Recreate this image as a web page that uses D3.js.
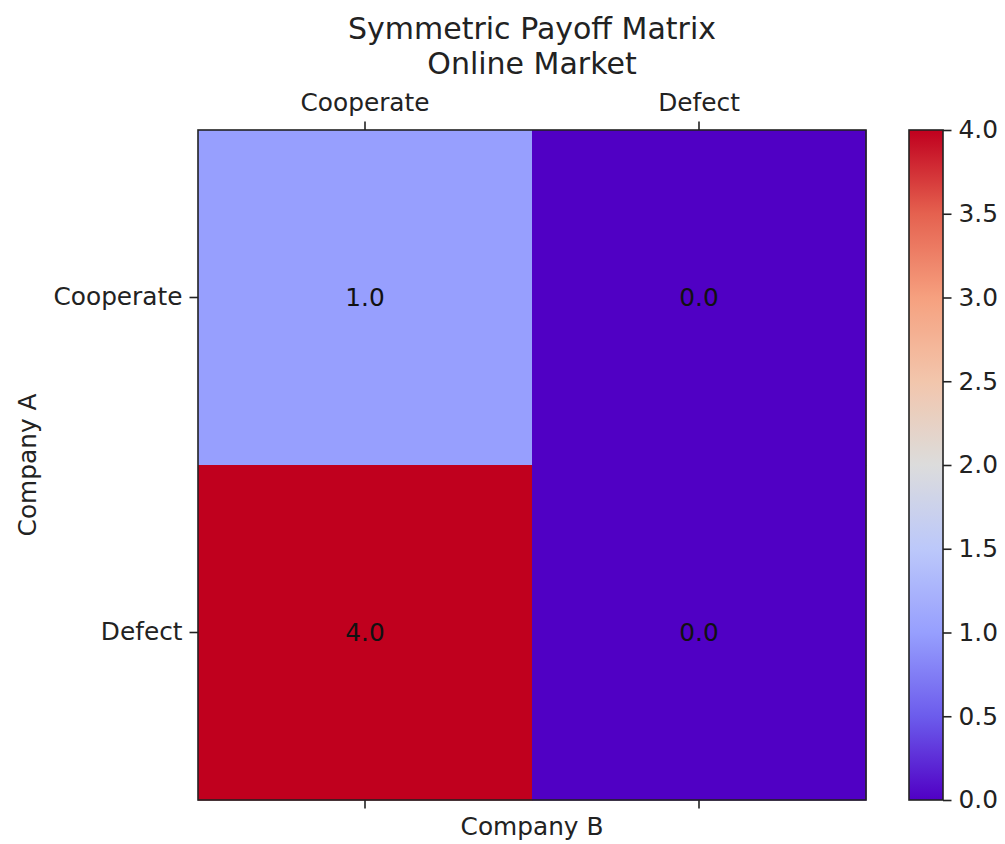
<!DOCTYPE html>
<html>
<head>
<meta charset="utf-8">
<script src="https://cdn.jsdelivr.net/npm/d3@7"></script>
<style>
  html, body { margin: 0; padding: 0; background: #fff; }
  svg { display: block; }
  text { font-family: "DejaVu Sans", sans-serif; }
</style>
</head>
<body>
<svg id="chart" width="1005" height="844"></svg>
<script>
// ---- data ----
const titleLines = ["Symmetric Payoff Matrix", "Online Market"];
const rowLabels = ["Cooperate", "Defect"];      // Company A (rows)
const colLabels = ["Cooperate", "Defect"];      // Company B (columns)
const payoffRowCooperate = [1.0, 0.0];
const payoffRowDefect = [4.0, 0.0];
const colorbarTicks = [0.0, 0.5, 1.0, 1.5, 2.0, 2.5, 3.0, 3.5, 4.0];
const xAxisLabel = "Company B";
const yAxisLabel = "Company A";

const payoffs = [payoffRowCooperate, payoffRowDefect];
const cells = [];
payoffs.forEach((row, i) => row.forEach((v, j) => cells.push({ r: rowLabels[i], c: colLabels[j], v })));

// ---- layout ----
const svg = d3.select("#chart");
const plot = { left: 198, right: 866, top: 130, bottom: 800 };
const cbar = { left: 909, right: 943 };
const FONT = 24.8;
const TICK = 8.5;

const cmapStops = [0, 0.5, 1.0, 1.5, 2.0, 2.5, 3.0, 3.5, 4.0];
const cmapColors = ["#5000c4", "#6c5cec", "#979ffe", "#bcc8fa", "#dcdcdc", "#f2c6ac", "#f6a07f", "#e5614f", "#c0001e"];
const color = d3.scaleLinear().domain(cmapStops).range(cmapColors).interpolate(d3.interpolateRgb).clamp(true);

const x = d3.scaleBand().domain(colLabels).range([plot.left, plot.right]);
const y = d3.scaleBand().domain(rowLabels).range([plot.top, plot.bottom]);

// cells
svg.append("g").selectAll("rect").data(cells).join("rect")
  .attr("x", d => x(d.c)).attr("y", d => y(d.r))
  .attr("width", x.bandwidth() + 0.5).attr("height", y.bandwidth() + 0.5)
  .attr("fill", d => color(d.v));

svg.append("g").selectAll("text").data(cells).join("text")
  .attr("x", d => x(d.c) + x.bandwidth() / 2)
  .attr("y", d => y(d.r) + y.bandwidth() / 2)
  .attr("text-anchor", "middle").attr("dominant-baseline", "central")
  .attr("font-size", FONT).attr("fill", "#111")
  .text(d => d.v.toFixed(1));

// axes
function styleAxis(g) {
  g.select(".domain").remove();
  g.selectAll(".tick line").attr("stroke", "#222").attr("stroke-width", 1.6);
  g.selectAll(".tick text").attr("font-size", FONT).attr("fill", "#222").attr("font-family", "DejaVu Sans, sans-serif");
}
svg.append("g").attr("transform", `translate(0,${plot.top})`)
  .call(d3.axisTop(x).tickSize(TICK).tickPadding(11)).call(styleAxis);
svg.append("g").attr("transform", `translate(0,${plot.bottom})`)
  .call(d3.axisBottom(x).tickSize(TICK).tickFormat("")).call(styleAxis);
svg.append("g").attr("transform", `translate(${plot.left},0)`)
  .call(d3.axisLeft(y).tickSize(TICK).tickPadding(7)).call(styleAxis);

// frame
svg.append("rect").attr("x", plot.left).attr("y", plot.top)
  .attr("width", plot.right - plot.left).attr("height", plot.bottom - plot.top)
  .attr("fill", "none").attr("stroke", "#222").attr("stroke-width", 1.6);

// titles
svg.append("g").selectAll("text").data(titleLines).join("text")
  .attr("x", (plot.left + plot.right) / 2)
  .attr("y", (d, i) => 38.5 + i * 35.5)
  .attr("text-anchor", "middle").attr("font-size", 30).attr("fill", "#222")
  .text(d => d);

svg.append("text").attr("x", (plot.left + plot.right) / 2).attr("y", 835)
  .attr("text-anchor", "middle").attr("font-size", FONT).attr("fill", "#222").text(xAxisLabel);
svg.append("text").attr("transform", `translate(36,${(plot.top + plot.bottom) / 2}) rotate(-90)`)
  .attr("text-anchor", "middle").attr("font-size", FONT).attr("fill", "#222").text(yAxisLabel);

// colorbar
const cscale = d3.scaleLinear().domain([0, 4]).range([plot.bottom, plot.top]);
const defs = svg.append("defs");
const grad = defs.append("linearGradient").attr("id", "cbgrad")
  .attr("x1", 0).attr("y1", 1).attr("x2", 0).attr("y2", 0);
grad.selectAll("stop").data(d3.range(0, 4.0001, 0.1)).join("stop")
  .attr("offset", d => d / 4).attr("stop-color", d => color(d));
svg.append("rect").attr("x", cbar.left).attr("y", plot.top)
  .attr("width", cbar.right - cbar.left).attr("height", plot.bottom - plot.top)
  .attr("fill", "url(#cbgrad)").attr("stroke", "#222").attr("stroke-width", 1.6);
svg.append("g").attr("transform", `translate(${cbar.right},0)`)
  .call(d3.axisRight(cscale).tickValues(colorbarTicks).tickSize(TICK).tickPadding(7).tickFormat(d3.format(".1f")))
  .call(styleAxis);
</script>
</body>
</html>
